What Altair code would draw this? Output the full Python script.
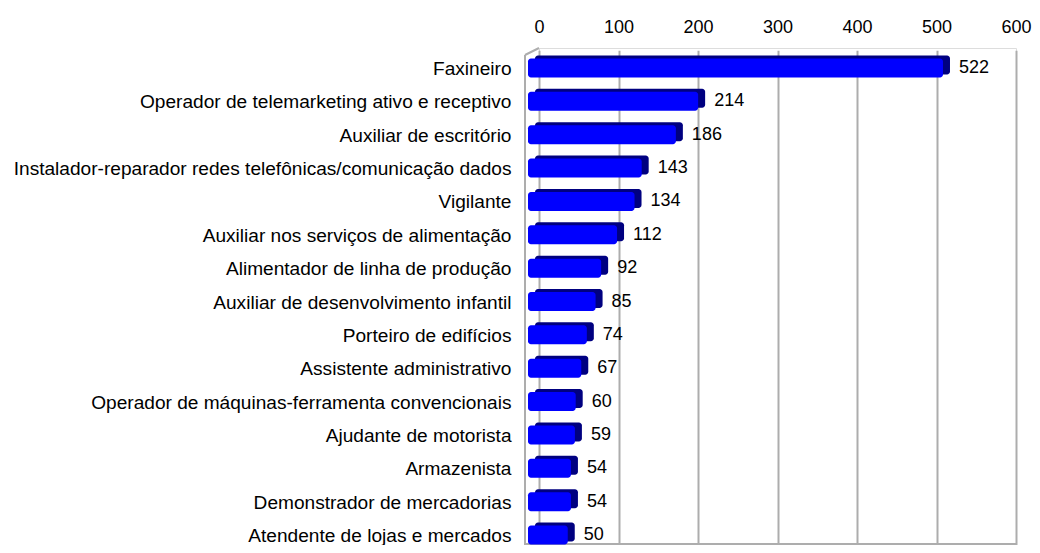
import altair as alt
import pandas as pd

categories = [
    "Faxineiro",
    "Operador de telemarketing ativo e receptivo",
    "Auxiliar de escritório",
    "Instalador-reparador redes telefônicas/comunicação dados",
    "Vigilante",
    "Auxiliar nos serviços de alimentação",
    "Alimentador de linha de produção",
    "Auxiliar de desenvolvimento infantil",
    "Porteiro de edifícios",
    "Assistente administrativo",
    "Operador de máquinas-ferramenta convencionais",
    "Ajudante de motorista",
    "Armazenista",
    "Demonstrador de mercadorias",
    "Atendente de lojas e mercados",
]
values = [522, 214, 186, 143, 134, 112, 92, 85, 74, 67, 60, 59, 54, 54, 50]
x_ticks = [0, 100, 200, 300, 400, 500, 600]

df = pd.DataFrame({"cat": categories, "val": values})

W, H = 477, 497
XMAX = 600
PX = W / XMAX  # pixels per unit
FRONT_SHIFT = 11 / PX   # 3D front face shift (in data units)
BACK_SHIFT = 4 / PX     # 3D back face shift
FONT = "Liberation Sans"

yscale = alt.Scale(domain=categories, range=[2.3, 502.7], paddingInner=0, paddingOuter=0)
xscale = alt.Scale(domain=[0, XMAX], nice=False, zero=True)

base = alt.Chart(df).transform_calculate(
    fe=f"datum.val - {FRONT_SHIFT}", fs=f"-{FRONT_SHIFT}",
    be=f"datum.val - {BACK_SHIFT}", bs=f"-{BACK_SHIFT}",
)

back = base.mark_bar(
    color="#000080", size=19, cornerRadius=3, yOffset=-2, y2Offset=-2,
).encode(
    x=alt.X("be:Q", scale=xscale,
            axis=alt.Axis(orient="top", values=x_ticks, grid=True, gridColor="#adadad",
                          gridWidth=2, domain=False, ticks=False, tickSize=0,
                          labelFont=FONT, labelFontSize=18, labelColor="#000000",
                          labelPadding=12, title=None, labelFlush=False)),
    x2="bs:Q",
    y=alt.Y("cat:N", scale=yscale, sort=categories,
            axis=alt.Axis(domain=False, ticks=False, tickSize=0, grid=False,
                          labelFont=FONT, labelFontSize=19.1, labelColor="#000000",
                          labelPadding=28, labelLimit=0, labelOffset=2, title=None)),
)

front = base.mark_bar(
    color="#0000FF", size=19, cornerRadius=3, yOffset=1, y2Offset=1,
).encode(
    x=alt.X("fe:Q", scale=xscale),
    x2="fs:Q",
    y=alt.Y("cat:N", scale=yscale, sort=categories),
)

labels = base.mark_text(
    align="left", baseline="middle", dx=5, dy=1, font=FONT, fontSize=18, color="#000000",
).encode(
    x=alt.X("val:Q", scale=xscale),
    y=alt.Y("cat:N", scale=yscale, sort=categories),
    text=alt.Text("val:Q"),
)

one = alt.Chart(df.head(1))
wall_v = one.mark_rule(color="#adadad", strokeWidth=2).encode(
    x=alt.value(-14), x2=alt.value(-14), y=alt.value(7), y2=alt.value(H)
)
wall_d = one.mark_rule(color="#adadad", strokeWidth=2).encode(
    x=alt.value(-14), x2=alt.value(0), y=alt.value(7), y2=alt.value(0)
)
floor = one.mark_rule(color="#adadad", strokeWidth=2).encode(
    x=alt.value(-14), x2=alt.value(W), y=alt.value(H - 1), y2=alt.value(H - 1)
)

chart = alt.layer(wall_v, wall_d, floor, back, front, labels).properties(
    width=W, height=H,
    autosize=alt.AutoSizeParams(type="none"),
    padding={"left": 531, "top": 40, "right": 16, "bottom": 0},
).configure_view(stroke=None).configure(background="white")

chart.save("out.html", embed_options={"renderer": "svg", "actions": False})
